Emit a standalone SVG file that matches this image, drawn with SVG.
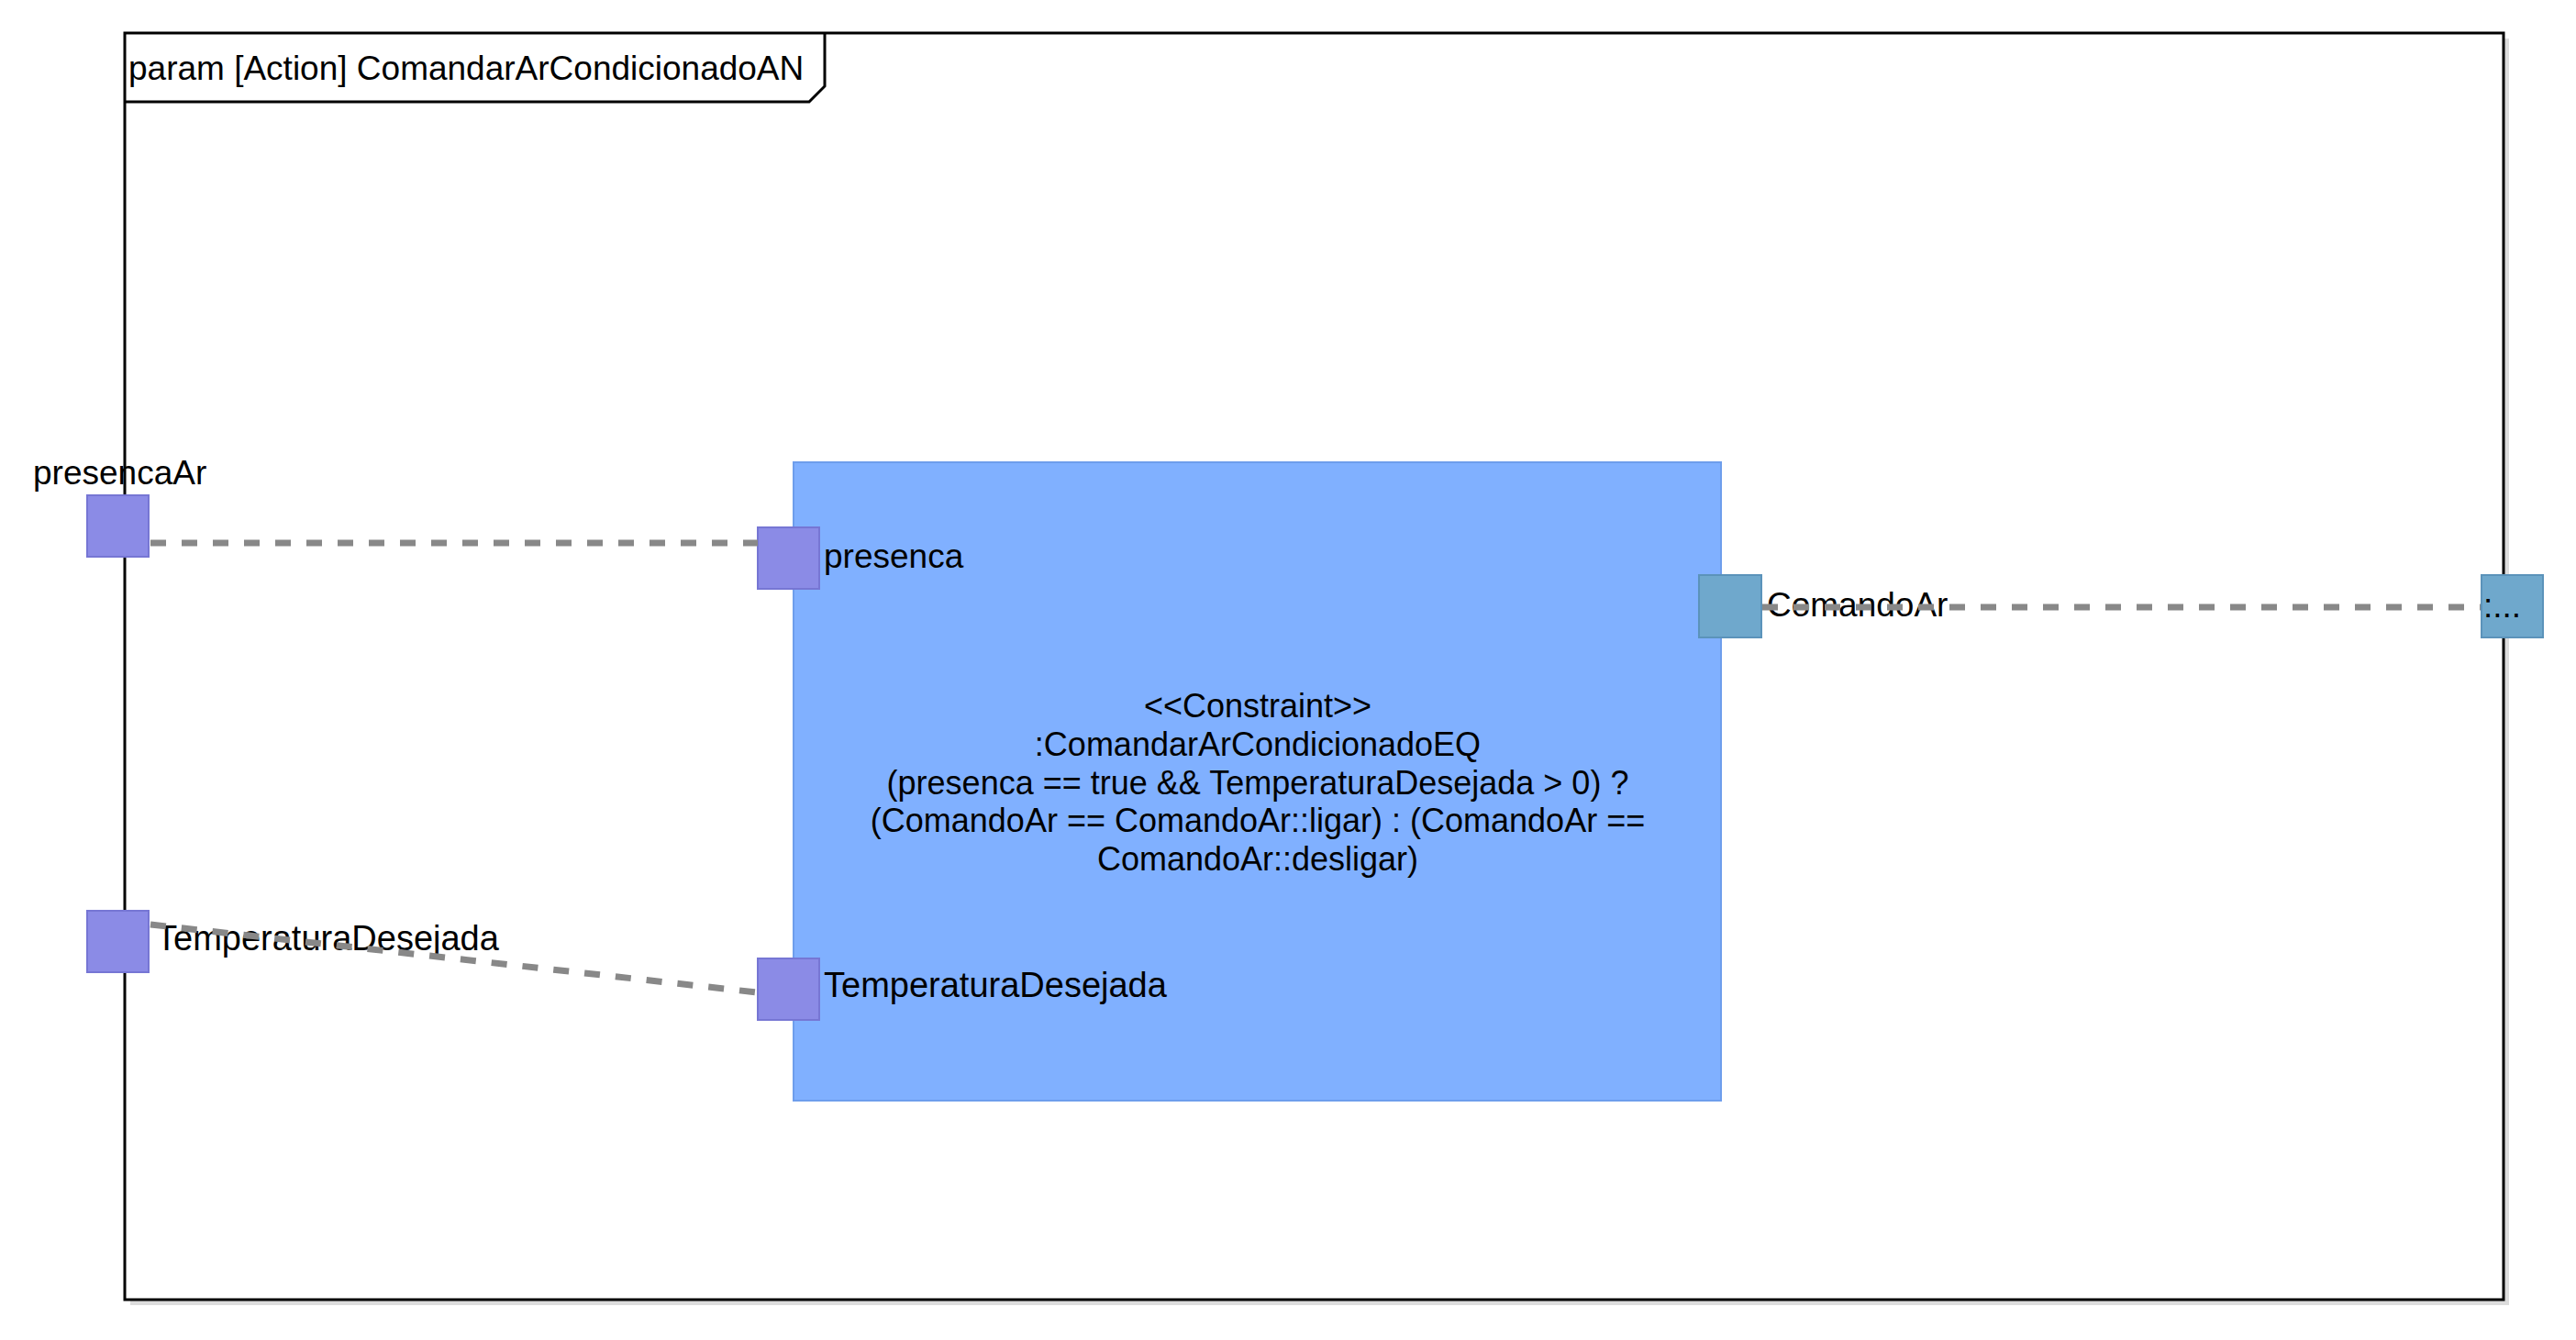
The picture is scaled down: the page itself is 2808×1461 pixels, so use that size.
<svg xmlns="http://www.w3.org/2000/svg" width="2808" height="1461" viewBox="0 0 2808 1461">
  <style>
    text { font-family: "Liberation Sans", Arial, sans-serif; fill: #000000; }
    .lbl { font-size: 37px; }
    .lblw { font-size: 38px; }
    .title { font-size: 37px; }
    .ctext { font-size: 36px; text-anchor: middle; }
    .pport { fill: #8B8BE6; stroke: #7676D4; stroke-width: 2; }
    .bport { fill: #6FA8CC; stroke: #5B93BA; stroke-width: 2; }
    .conn { fill: none; stroke: #888888; stroke-width: 7; stroke-dasharray: 17 17; }
  </style>
  <rect width="2808" height="1461" fill="#ffffff"/>

  <g id="frame">
    <rect x="142" y="42" width="2593" height="1381" fill="#dcdcdc"/>
    <rect x="136" y="36" width="2593" height="1381" fill="#ffffff" stroke="#000000" stroke-width="3"/>
    <path d="M136 111 L882 111 L899 94 L899 36" fill="none" stroke="#000000" stroke-width="3"/>
    <text class="title" x="140" y="87">param [Action] ComandarArCondicionadoAN</text>
  </g>

  <g id="constraint">
    <rect x="865" y="504" width="1011" height="696" fill="#80B0FF" stroke="#6E9EEC" stroke-width="2"/>
    <text class="ctext" x="1371" y="782">&lt;&lt;Constraint&gt;&gt;</text>
    <text class="ctext" x="1371" y="824">:ComandarArCondicionadoEQ</text>
    <text class="ctext" x="1371" y="866">(presenca == true &amp;&amp; TemperaturaDesejada &gt; 0) ?</text>
    <text class="ctext" x="1371" y="907">(ComandoAr == ComandoAr::ligar) : (ComandoAr ==</text>
    <text class="ctext" x="1371" y="949">ComandoAr::desligar)</text>
  </g>

  <g id="port-presencaAr">
    <rect class="pport" x="95" y="540" width="67" height="67"/>
    <text class="lbl" x="36" y="528">presencaAr</text>
  </g>

  <g id="port-TemperaturaDesejada-outer">
    <rect class="pport" x="95" y="993" width="67" height="67"/>
    <text class="lblw" x="170" y="1036">TemperaturaDesejada</text>
  </g>

  <g id="port-presenca">
    <rect class="pport" x="826" y="575" width="67" height="67"/>
    <text class="lbl" x="898" y="619">presenca</text>
  </g>

  <g id="port-TemperaturaDesejada-inner">
    <rect class="pport" x="826" y="1045" width="67" height="67"/>
    <text class="lblw" x="898" y="1087">TemperaturaDesejada</text>
  </g>

  <g id="port-ComandoAr">
    <rect class="bport" x="1852" y="627" width="68" height="68"/>
    <text class="lbl" x="1926" y="672">ComandoAr</text>
  </g>

  <g id="port-out">
    <rect class="bport" x="2705" y="627" width="67" height="68"/>
    <text class="lbl" x="2707" y="673">:...</text>
  </g>

  <g id="connectors">
    <line class="conn" x1="164" y1="592" x2="826" y2="592"/>
    <line class="conn" x1="164" y1="1008" x2="825" y2="1082"/>
    <line class="conn" x1="1921" y1="662" x2="2704" y2="662"/>
  </g>
</svg>
